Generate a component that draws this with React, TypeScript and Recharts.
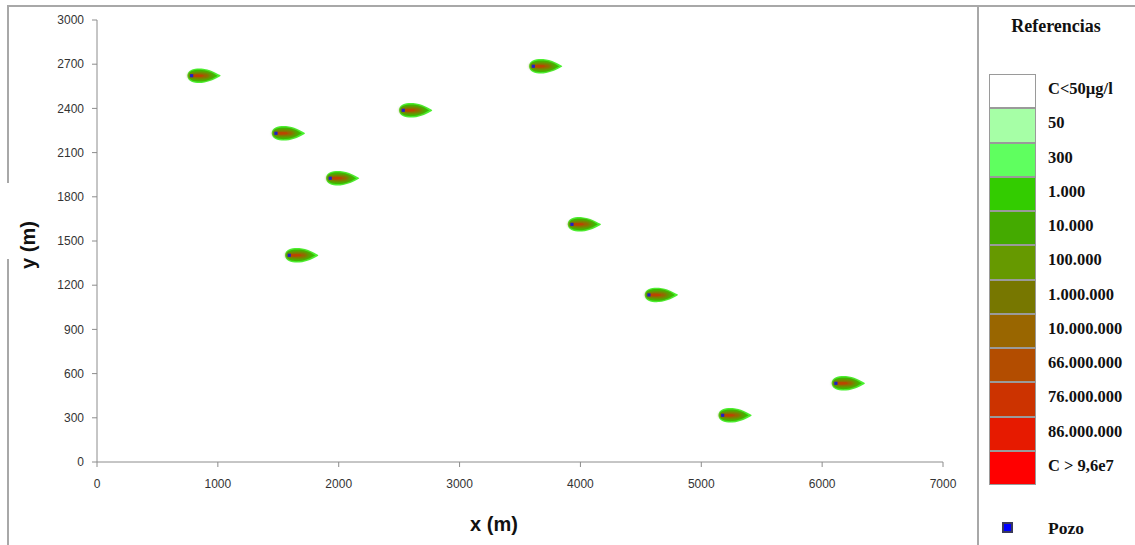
import React from 'react';
import { ScatterChart, Scatter, XAxis, YAxis } from 'recharts';

const wellX = [783, 1481, 2534, 3610, 1930, 1591, 3930, 4567, 5177, 6114];
const wellY = [2622, 2231, 2387, 2686, 1926, 1403, 1613, 1134, 317, 534];
const wells = wellX.map((x, i) => ({ x, y: wellY[i] }));

const xTicks = [0, 1000, 2000, 3000, 4000, 5000, 6000, 7000];
const yTicks = [0, 300, 600, 900, 1200, 1500, 1800, 2100, 2400, 2700, 3000];

const legendLabels = [
  'C<50µg/l', '50', '300', '1.000', '10.000', '100.000', '1.000.000',
  '10.000.000', '66.000.000', '76.000.000', '86.000.000', 'C > 9,6e7',
];
const legendColors = [
  '#ffffff', '#a6ffa6', '#5fff5f', '#33cc00', '#44aa00', '#669900', '#777700',
  '#996600', '#b34d00', '#cc3300', '#e61a00', '#ff0000',
];

const outerPath = 'M -4.2 0 C -4.2 -6, 3 -7.6, 10 -7.2 C 18 -6.4, 24 -3, 28.5 -0.6 Q 29.5 0, 28.5 0.6 C 24 3, 18 6.4, 10 7.2 C 3 7.6, -4.2 6, -4.2 0 Z';
const midPath = 'M -3 0 C -3 -5, 3 -6.2, 10 -5.8 C 17 -5.2, 22 -2.3, 26 0 C 22 2.3, 17 5.2, 10 5.8 C 3 6.2, -3 5, -3 0 Z';

const Plume = (props: any) => {
  const { cx, cy } = props;
  if (cx == null || cy == null) return null;
  return (
    <g transform={`translate(${cx},${cy})`}>
      <defs>
        <filter id="plumeBlur" x="-50%" y="-50%" width="200%" height="200%">
          <feGaussianBlur stdDeviation="0.6" />
        </filter>
        <filter id="plumeBlur2" x="-50%" y="-50%" width="200%" height="200%">
          <feGaussianBlur stdDeviation="1.4" />
        </filter>
      </defs>
      <path d={outerPath} fill="#4cf030" filter="url(#plumeBlur)" />
      <path d={midPath} fill="#36c000" filter="url(#plumeBlur)" />
      <ellipse cx={9.5} cy={0} rx={13} ry={4} fill="#5e9800" filter="url(#plumeBlur2)" />
      <ellipse cx={7.5} cy={0} rx={10.5} ry={2.5} fill="#a85600" filter="url(#plumeBlur2)" />
      <ellipse cx={5.5} cy={0} rx={6.5} ry={1.4} fill="#c04200" opacity={0.85} filter="url(#plumeBlur)" />
      <rect x={-1.6} y={-1.6} width={3.2} height={3.2} fill="#2020c8" />
    </g>
  );
};

const LegendBox = () => (
  <div style={{ position: 'absolute', left: 977, top: 0, width: 158, height: 545, fontFamily: '"Liberation Serif", "DejaVu Serif", serif', fontWeight: 'bold', color: '#111' }}>
    <div style={{ position: 'absolute', left: 0, width: 158, top: 16, textAlign: 'center', fontSize: 18 }}>Referencias</div>
    {legendLabels.map((lab, i) => (
      <React.Fragment key={lab}>
        <div style={{ position: 'absolute', left: 12, top: 74 + i * 34.25, width: 47, height: 34.25, boxSizing: 'border-box', background: legendColors[i], border: '1.5px solid #9a9a9a' }} />
        <div style={{ position: 'absolute', left: 71, top: 73 + i * 34.25, height: 32, lineHeight: '32px', fontSize: 16.5, whiteSpace: 'nowrap' }}>{lab}</div>
      </React.Fragment>
    ))}
    <div style={{ position: 'absolute', left: 25, top: 522, width: 11, height: 11, boxSizing: 'border-box', background: '#0000ff', border: '2px solid #3a3a5a' }} />
    <div style={{ position: 'absolute', left: 71, top: 515, fontSize: 17.5, lineHeight: '26px' }}>Pozo</div>
  </div>
);

export default function App() {
  const tickStyle = { fontFamily: '"Liberation Sans", Arial, sans-serif', fontSize: 12, fill: '#333' };
  return (
    <div style={{ position: 'absolute', left: 0, top: 0, width: 1135, height: 545, background: '#fff', overflow: 'hidden' }}>
      <div style={{ position: 'absolute', left: 0, top: 0, width: 1135, height: 545 }}>
        <ScatterChart width={1135} height={545} margin={{ top: 20, right: 192, bottom: 0, left: 0 }}>
          <XAxis
            type="number"
            dataKey="x"
            domain={[0, 7000]}
            ticks={xTicks}
            interval={0}
            height={83}
            tickSize={5}
            tickMargin={12}
            stroke="#8c8c8c"
            tick={tickStyle}
            label={{
              content: (p: any) => {
                const vb = p.viewBox || { x: 97, y: 462, width: 846 };
                return (
                  <text x={vb.x + vb.width / 2 - 26} y={vb.y + 62} textAnchor="middle" dominantBaseline="central"
                    style={{ fontFamily: '"Liberation Sans", Arial, sans-serif', fontWeight: 'bold', fontSize: 20, fill: '#111' }}>x (m)</text>
                );
              },
            }}
          />
          <YAxis
            type="number"
            dataKey="y"
            domain={[0, 3000]}
            ticks={yTicks}
            interval={0}
            width={97}
            tickSize={5}
            tickMargin={8}
            stroke="#8c8c8c"
            tick={tickStyle}
            label={{
              content: (p: any) => {
                const vb = p.viewBox || { x: 0, y: 20, height: 442 };
                const x = vb.x + 28;
                const y = vb.y + vb.height / 2 + 4;
                return (
                  <text x={x} y={y} transform={`rotate(-90, ${x}, ${y})`} textAnchor="middle" dominantBaseline="central"
                    style={{ fontFamily: '"Liberation Sans", Arial, sans-serif', fontWeight: 'bold', fontSize: 20, fill: '#111' }}>y (m)</text>
                );
              },
            }}
          />
          <YAxis yAxisId="right" orientation="right" type="number" domain={[0, 3000]} ticks={[]} tick={false} tickLine={false} width={0} stroke="#c8c8c8" />
          <Scatter data={wells} shape={<Plume />} isAnimationActive={false} />
        </ScatterChart>
      </div>
      <div style={{ position: 'absolute', left: 7, top: 5, width: 1128, height: 1.5, background: '#a8a8a8' }} />
      <div style={{ position: 'absolute', left: 7, top: 5, width: 1.5, height: 178, background: '#a8a8a8' }} />
      <div style={{ position: 'absolute', left: 7, top: 259, width: 1.5, height: 290, background: '#a8a8a8' }} />
      <div style={{ position: 'absolute', left: 977, top: 5, width: 1.5, height: 545, background: '#a8a8a8' }} />
      <LegendBox />
    </div>
  );
}
